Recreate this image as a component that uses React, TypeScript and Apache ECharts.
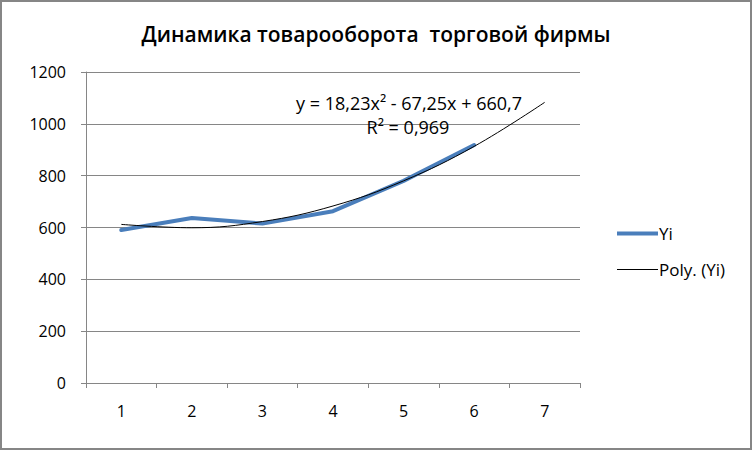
import React, { useEffect, useRef } from "react";
import * as echarts from "echarts";

const categories = ["1", "2", "3", "4", "5", "6", "7"];
const yiValues = [590, 637, 615, 663, 780, 918];
const polyValues = [612, 599, 623, 683, 780, 913, 1083];
const titleText = "Динамика товарооборота  торговой фирмы";
const equationText = "y = 18,23x² - 67,25x + 660,7";
const r2Text = "R² = 0,969";

const FONT = "'Open Sans', sans-serif";

export default function App() {
  const ref = useRef<HTMLDivElement>(null);
  useEffect(() => {
    if (!ref.current) return;
    const chart = echarts.init(ref.current, null, { renderer: "svg" });
    chart.setOption({
      animation: false,
      backgroundColor: "#ffffff",
      title: {
        text: titleText,
        left: "center",
        top: 18,
        textStyle: { fontFamily: FONT, fontSize: 21, fontWeight: 600, color: "#000" },
      },
      grid: { left: 86, right: 172, top: 72, bottom: 67 },
      legend: {
        orient: "vertical",
        left: 612,
        top: 220,
        itemGap: 19,
        itemWidth: 41,
        itemHeight: 10,
        textStyle: { fontFamily: FONT, fontSize: 17, color: "#000", padding: [0, 0, 0, -4] },
        data: [
          { name: "Yi", icon: "path://M0,4 L41,4 L41,8 L0,8 Z", itemStyle: { color: "#4A7EBB" } },
          { name: "Poly. (Yi)", icon: "path://M0,5.5 L41,5.5 L41,6.5 L0,6.5 Z", itemStyle: { color: "#000" } },
        ],
      },
      xAxis: {
        type: "category",
        data: categories,
        boundaryGap: true,
        axisLine: { lineStyle: { color: "#868686", width: 1 } },
        axisTick: { show: true, length: 5, lineStyle: { color: "#868686" } },
        axisLabel: { fontFamily: FONT, fontSize: 16, color: "#000", margin: 20 },
        splitLine: { show: false },
      },
      yAxis: {
        type: "value",
        min: 0,
        max: 1200,
        interval: 200,
        axisLine: { show: true, lineStyle: { color: "#868686", width: 1 } },
        axisTick: { show: true, length: 5, lineStyle: { color: "#868686" } },
        axisLabel: {
          fontFamily: FONT,
          fontSize: 16,
          color: "#000",
          margin: 20,
          formatter: (v: number) => String(v),
        },
        splitLine: { show: true, lineStyle: { color: "#868686", width: 1 } },
      },
      series: [
        {
          name: "Yi",
          type: "line",
          data: yiValues,
          symbol: "none",
          z: 2,
          lineStyle: { color: "#4A7EBB", width: 4, cap: "round", join: "round" },
          itemStyle: { color: "#4A7EBB" },
        },
        {
          name: "Poly. (Yi)",
          type: "line",
          data: polyValues,
          symbol: "none",
          smooth: 0.4,
          z: 3,
          lineStyle: { color: "#000", width: 1 },
          itemStyle: { color: "#000" },
        },
      ],
      graphic: [
        {
          type: "rect",
          shape: { x: 1, y: 1, width: 750, height: 448 },
          style: { fill: "none", stroke: "#868686", lineWidth: 2 },
          silent: true,
          z: 100,
        },
        {
          type: "text",
          x: 409,
          y: 103,
          style: {
            text: equationText,
            fontFamily: FONT,
            fontSize: 18,
            fill: "#000",
            align: "center",
            verticalAlign: "middle",
          },
          z: 100,
        },
        {
          type: "text",
          x: 408,
          y: 127,
          style: {
            text: r2Text,
            fontFamily: FONT,
            fontSize: 18,
            fill: "#000",
            align: "center",
            verticalAlign: "middle",
          },
          z: 100,
        },
      ],
    });
    return () => chart.dispose();
  }, []);
  return (
    <div
      ref={ref}
      style={{ position: "fixed", left: 0, top: 0, width: 752, height: 450 }}
    />
  );
}
